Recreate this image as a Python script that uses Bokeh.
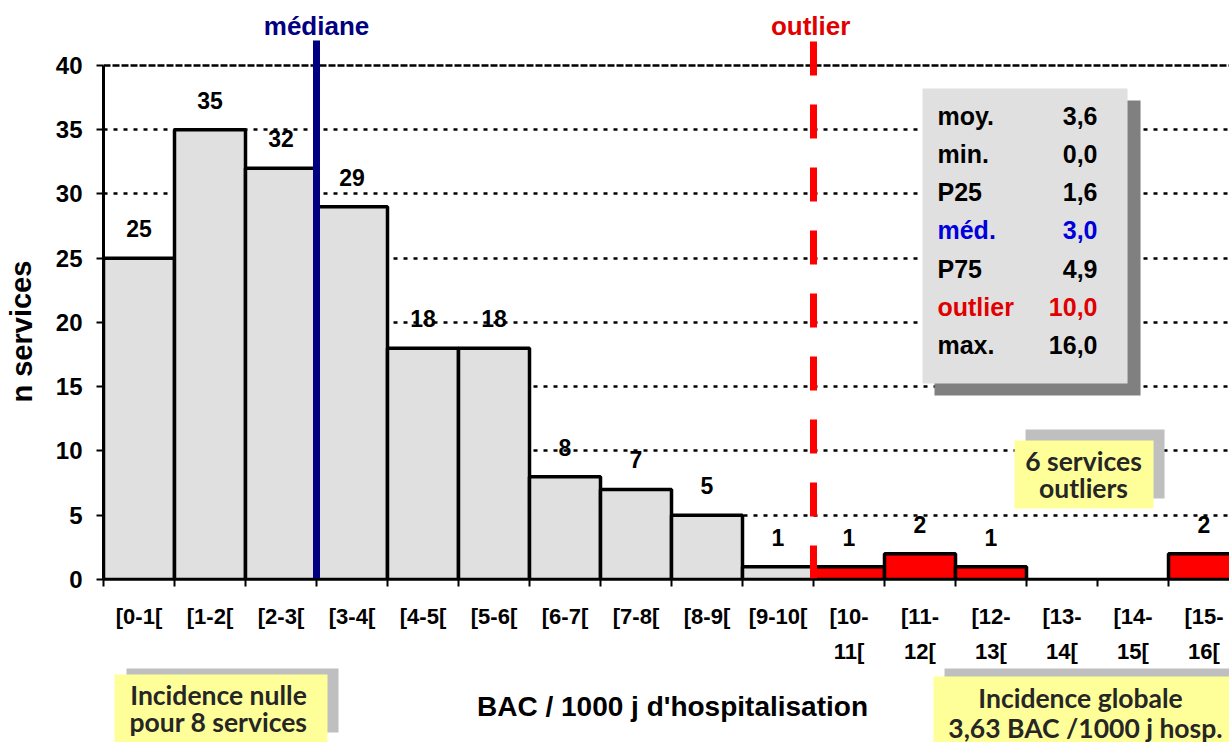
from bokeh.plotting import figure
from bokeh.layouts import column, row
from bokeh.models import Range1d, FixedTicker, Span, ColumnDataSource
from bokeh.core.properties import value
from bokeh.embed import file_html
from bokeh.resources import INLINE

# ---------------- data ----------------
bin_labels = ["[0-1[", "[1-2[", "[2-3[", "[3-4[", "[4-5[", "[5-6[", "[6-7[", "[7-8[",
              "[8-9[", "[9-10[", "[10-\n11[", "[11-\n12[", "[12-\n13[", "[13-\n14[",
              "[14-\n15[", "[15-\n16["]
bin_starts = list(range(16))
counts = [25, 35, 32, 29, 18, 18, 8, 7, 5, 1, 1, 2, 1, 0, 0, 2]
stat_names = ["moy.", "min.", "P25", "méd.", "P75", "outlier", "max."]
stat_values = [3.6, 0.0, 1.6, 3.0, 4.9, 10.0, 16.0]
median_value = 3.0
outlier_value = 10.0
y_ticks = [0, 5, 10, 15, 20, 25, 30, 35, 40]
note_outliers = ["6 services", "outliers"]
note_null = ["Incidence nulle", "pour 8 services"]
note_global = ["Incidence globale", "3,63 BAC /1000 j hosp."]
x_title = "BAC / 1000 j d'hospitalisation"
y_title = "n services"

FONT = "Liberation Sans"
NOTE_FONT = "Lato"
MAIN_H = 668
BOT_H = 74


def bare(fig):
    fig.outline_line_color = None
    fig.background_fill_color = "white"
    fig.border_fill_color = "white"
    return fig


# ---------------- y title panel ----------------
yfig = bare(figure(width=50, height=MAIN_H, output_backend="svg", toolbar_location=None,
                   x_range=Range1d(0, 50), y_range=Range1d(0, MAIN_H),
                   x_axis_type=None, y_axis_type=None,
                   min_border_left=0, min_border_right=0, min_border_top=0, min_border_bottom=0))
yfig.text(x=[21], y=[286], text=[y_title], text_font=value(FONT), text_font_size="29px",
          text_font_style="bold", text_color="black", text_align="center",
          text_baseline="alphabetic", angle=1.5708)

# ---------------- main chart ----------------
p = bare(figure(width=1179, height=MAIN_H, output_backend="svg", toolbar_location=None,
                x_range=Range1d(0, 15.859), y_range=Range1d(0, 45.058),
                min_border_left=53, min_border_right=0, min_border_top=0,
                min_border_bottom=MAIN_H - 579))

p.xgrid.visible = False
p.ygrid.ticker = FixedTicker(ticks=y_ticks[1:-1])
p.ygrid.grid_line_color = "black"
p.ygrid.grid_line_width = 2.5
p.ygrid.grid_line_dash = "4 6"
p.add_layout(Span(location=y_ticks[-1], dimension="width", line_color="black",
                  line_width=2.5, line_dash="7 2", level="underlay"))

p.yaxis.ticker = FixedTicker(ticks=y_ticks)
p.yaxis.bounds = (0, 40)
p.yaxis.axis_line_width = 3
p.yaxis.major_tick_line_width = 2
p.yaxis.major_tick_out = 7
p.yaxis.major_tick_in = 0
p.yaxis.minor_tick_line_color = None
p.yaxis.major_label_text_font = FONT
p.yaxis.major_label_text_font_size = "24px"
p.yaxis.major_label_text_font_style = "bold"
p.yaxis.major_label_text_color = "black"
p.yaxis.major_label_standoff = 14

centers = [s + 0.5 for s in bin_starts]
p.xaxis.ticker = FixedTicker(ticks=centers, minor_ticks=bin_starts + [16])
p.xaxis.major_label_overrides = {c: l for c, l in zip(centers, bin_labels)}
p.xaxis.major_tick_out = 0
p.xaxis.major_tick_in = 0
p.xaxis.minor_tick_out = 7
p.xaxis.minor_tick_in = 0
p.xaxis.minor_tick_line_width = 2
p.xaxis.minor_tick_line_color = "black"
p.xaxis.axis_line_width = 2.5
p.xaxis.major_label_text_font = FONT
p.xaxis.major_label_text_font_size = "22px"
p.xaxis.major_label_text_font_style = "bold"
p.xaxis.major_label_text_color = "black"
p.xaxis.major_label_standoff = 17
p.xaxis.major_label_text_line_height = 1.42

colors = ["#e0e0e0" if s < outlier_value else "#ff0000" for s in bin_starts]
src = ColumnDataSource(dict(left=bin_starts, right=[s + 1 for s in bin_starts],
                            top=counts, color=colors))
p.quad(left="left", right="right", bottom=0, top="top", fill_color="color",
       line_color="black", line_width=3.5, source=src)

p.segment(x0=[outlier_value], y0=[0], x1=[outlier_value], y1=[42.1],
          line_color="#ff0000", line_width=7, line_dash="34 29")
p.segment(x0=[median_value], y0=[-0.2], x1=[median_value], y1=[41.95],
          line_color="#000080", line_width=7)

lab_x = [s + 0.5 for s, c in zip(bin_starts, counts) if c > 0]
lab_y = [c + 2.3 for c in counts if c > 0]
lab_t = [str(c) for c in counts if c > 0]
p.text(x=lab_x, y=lab_y, text=lab_t, text_font=value(FONT), text_font_size="23px",
       text_font_style="bold", text_color="black", text_align="center",
       text_baseline="middle")

p.text(x=[median_value], y=[43.11], text=["médiane"], text_font=value(FONT),
       text_font_size="26px", text_font_style="bold", text_color="#000080",
       text_align="center", text_baseline="middle")
p.text(x=[outlier_value - 0.04], y=[43.11], text=["outlier"], text_font=value(FONT),
       text_font_size="26px", text_font_style="bold", text_color="#e00000",
       text_align="center", text_baseline="middle")

# stats box
p.quad(left=[11.704], right=[14.606], top=[37.28], bottom=[14.32],
       fill_color="#808080", line_color=None)
p.quad(left=[11.535], right=[14.423], top=[38.21], bottom=[15.25],
       fill_color="#e0e0e0", line_color=None)
stat_colors = ["#0000dd" if n == "méd." else ("#e00000" if n == "outlier" else "black")
               for n in stat_names]
row_y = [36.1 - 2.98 * i for i in range(len(stat_names))]
p.text(x=[11.746] * len(stat_names), y=row_y, text=stat_names, text_color=stat_colors,
       text_font=value(FONT), text_font_size="25px", text_font_style="bold",
       text_align="left", text_baseline="middle")
p.text(x=[14.0] * len(stat_values), y=row_y,
       text=[f"{v:.1f}".replace(".", ",") for v in stat_values], text_color=stat_colors,
       text_font=value(FONT), text_font_size="25px", text_font_style="bold",
       text_align="right", text_baseline="middle")


def note(fig, shadow, box, lines, xs, ys):
    fig.quad(left=[shadow[0]], right=[shadow[1]], top=[shadow[2]], bottom=[shadow[3]],
             fill_color="#bfbfbf", line_color=None)
    fig.quad(left=[box[0]], right=[box[1]], top=[box[2]], bottom=[box[3]],
             fill_color="#ffff99", line_color=None)
    fig.text(x=xs, y=ys, text=lines, text_font=value(NOTE_FONT), text_font_size="26.5px",
             text_font_style="bold", text_color="#262626", text_align="center",
             text_baseline="middle")


note(p, (12.986, 14.944, 11.673, 6.304), (12.831, 14.789, 10.817, 5.525),
     note_outliers, [13.803, 13.803], [9.183, 7.12])

# ---------------- bottom panel ----------------
bfig = bare(figure(width=1229, height=BOT_H, output_backend="svg", toolbar_location=None,
                   x_range=Range1d(-1.4507, 15.859),
                   y_range=Range1d((579 - MAIN_H - BOT_H) / 12.85, (579 - MAIN_H) / 12.85),
                   x_axis_type=None, y_axis_type=None,
                   min_border_left=0, min_border_right=0, min_border_top=0, min_border_bottom=0))
note(bfig, (0.324, 3.31, -6.615, -11.9), (0.155, 3.155, -7.393, -13.5),
     note_null, [1.62, 1.62], [-9.027, -11.128])
note(bfig, (11.845, 16.3, -6.693, -11.9), (11.69, 16.1, -7.549, -13.5),
     note_global, [13.76, 13.83], [-9.26, -11.595])
bfig.text(x=[8.014], y=[-9.88], text=[x_title], text_font=value(FONT), text_font_size="28px",
          text_font_style="bold", text_color="black", text_align="center",
          text_baseline="middle")

layout = column(row(yfig, p), bfig)
open("out.html", "w").write(file_html(layout, INLINE))
